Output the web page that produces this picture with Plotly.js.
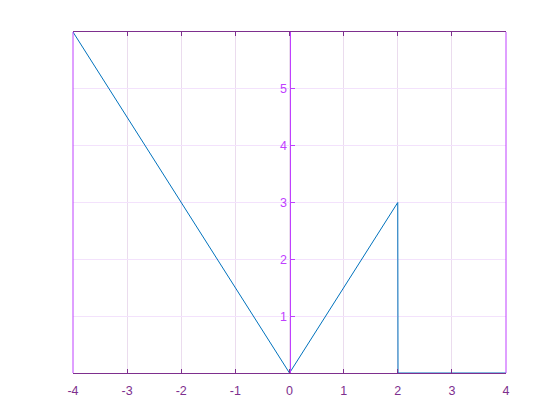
<!DOCTYPE html>
<html><head><meta charset="utf-8">
<script src="https://cdn.plot.ly/plotly-3.0.1.min.js"></script>
<style>body{margin:0;padding:0;background:#fff}</style>
</head><body>
<div id="chart" style="width:560px;height:420px"></div>
<script>
const xValues = [-4, 0, 2, 2.005, 4];
const yValues = [6, 0, 3, 0, 0];
const xTicks = [-4, -3, -2, -1, 0, 1, 2, 3, 4];
const yTicks = [1, 2, 3, 4, 5];

const xColor = '#7E2F8E';
const yColor = '#BF40FF';

const trace = {x: xValues, y: yValues, mode: 'lines', type: 'scatter',
  line: {color: '#0072BD', width: 1}, hoverinfo: 'skip'};

const layout = {
  width: 560, height: 420,
  margin: {l: 73, r: 54, t: 32, b: 47},
  paper_bgcolor: '#fff', plot_bgcolor: '#fff',
  showlegend: false,
  font: {family: 'Liberation Sans, Arial, sans-serif', size: 12},
  xaxis: {range: [-4, 4], tickvals: xTicks, ticktext: xTicks.map(String),
    showline: true, linecolor: xColor, linewidth: 1, mirror: 'ticks',
    ticks: 'inside', ticklen: 4, tickcolor: xColor, ticklabelstandoff: 6,
    showgrid: true, gridcolor: '#EBDCEE', gridwidth: 1,
    zeroline: false, tickfont: {color: xColor, size: 12.5}},
  yaxis: {range: [0, 6], tickvals: yTicks, ticktext: yTicks.map(String),
    anchor: 'free', position: 0.5, side: 'left',
    showline: true, linecolor: yColor, linewidth: 1,
    ticks: 'inside', ticklen: 4, tickcolor: yColor,
    showgrid: true, gridcolor: '#F3E2FC', gridwidth: 1,
    zeroline: false, tickfont: {color: yColor, size: 12.5}},
  shapes: [
    {type: 'line', xref: 'paper', yref: 'paper', x0: 0, x1: 0, y0: 0, y1: 1,
     line: {color: yColor, width: 1}},
    {type: 'line', xref: 'paper', yref: 'paper', x0: 1, x1: 1, y0: 0, y1: 1,
     line: {color: yColor, width: 1}}
  ]
};
Plotly.newPlot('chart', [trace], layout, {displayModeBar: false, staticPlot: true});
</script>
</body></html>
